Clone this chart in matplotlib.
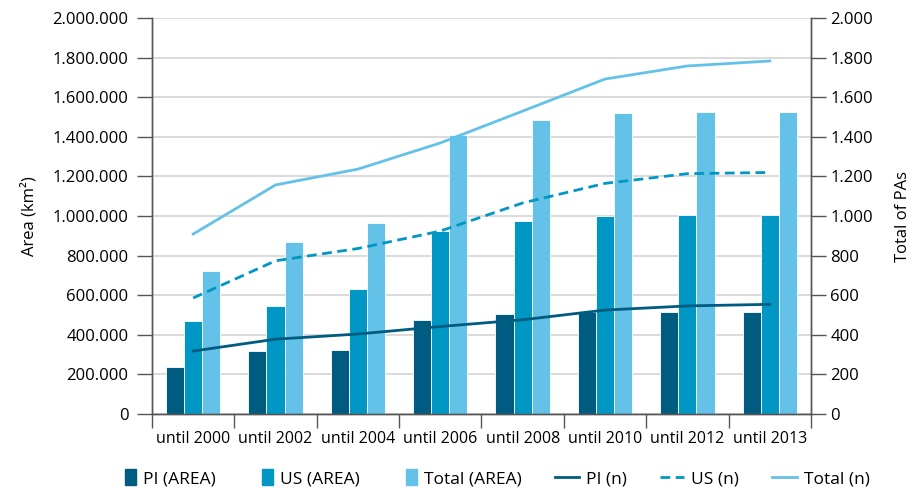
import numpy as np
import matplotlib.pyplot as plt
from matplotlib.ticker import FuncFormatter
from matplotlib.patches import Rectangle
from matplotlib.legend_handler import HandlerPatch

plt.rcParams['font.family'] = ['Open Sans', 'DejaVu Sans']

# data
periods = ['until 2000', 'until 2002', 'until 2004', 'until 2006',
           'until 2008', 'until 2010', 'until 2012', 'until 2013']
pi_area = [240000, 316000, 323000, 476000, 503000, 517000, 514000, 514000]
us_area = [471000, 547000, 631000, 924000, 973000, 1000000, 1003000, 1003000]
total_area = [721000, 869000, 965000, 1409000, 1485000, 1520000, 1524000, 1525000]
pi_n = [318, 378, 404, 442, 476, 525, 546, 554]
us_n = [586, 774, 836, 924, 1066, 1165, 1214, 1220]
total_n = [909, 1157, 1237, 1369, 1530, 1692, 1758, 1783]

c_dark = '#005b80'
c_mid = '#0097c4'
c_light = '#64c1e7'


def dotted(v, pos):
    return f'{int(v):,}'.replace(',', '.')


# narrow upright box for the bar entries in the legend
def small_box(legend, orig_handle, xdescent, ydescent, width, height, fontsize):
    return Rectangle((width - 8 - xdescent, -ydescent - 1.5), 8, height + 3)


fig = plt.figure(figsize=(9.19, 4.88), dpi=100)
ax = fig.add_axes([0.1654, 0.1516, 0.717, 0.8114])
ax2 = ax.twinx()

x = np.arange(len(periods))
w = 0.22
ax.bar(x - w, pi_area, w, color=c_dark, edgecolor='white', linewidth=0.6, zorder=2)
ax.bar(x, us_area, w, color=c_mid, edgecolor='white', linewidth=0.6, zorder=2)
ax.bar(x + w, total_area, w, color=c_light, edgecolor='white', linewidth=0.6, zorder=2)

l_pi, = ax2.plot(x, pi_n, color=c_dark, lw=2)
l_us, = ax2.plot(x, us_n, color=c_mid, lw=2, ls=(0, (3.5, 2)))
l_tot, = ax2.plot(x, total_n, color=c_light, lw=2)

ax.set_xlim(-0.5, len(periods) - 0.5)
ax.set_ylim(0, 2000000)
ax2.set_ylim(0, 2000)
ax.set_yticks(np.arange(0, 2000001, 200000))
ax2.set_yticks(np.arange(0, 2001, 200))
ax.yaxis.set_major_formatter(FuncFormatter(dotted))
ax2.yaxis.set_major_formatter(FuncFormatter(dotted))
ax.grid(axis='y', color='#d4d4d4', lw=1.2, zorder=0)
ax.set_axisbelow(True)

ax.set_xticks(np.arange(-0.5, len(periods), 1))
ax.set_xticklabels([])
ax.set_xticks(x, minor=True)
ax.set_xticklabels(periods, minor=True)
ax.tick_params(axis='x', which='major', length=10, width=1, color='#555555')
ax.tick_params(axis='x', which='minor', length=0, pad=12, labelsize=11.5)
ax.tick_params(axis='y', length=11, width=1, color='#555555', labelsize=12, pad=6)
ax2.tick_params(axis='y', length=11, width=1, color='#555555', labelsize=12, pad=3)

for a in (ax, ax2):
    a.spines['top'].set_visible(False)
    for s in ('left', 'right', 'bottom'):
        a.spines[s].set_color('#555555')
        a.spines[s].set_linewidth(1)

ax.set_ylabel('Area (km²)', fontsize=12, labelpad=11)
ax2.set_ylabel('Total of PAs', fontsize=12, labelpad=16)

handles = [Rectangle((0, 0), 1, 1, color=c_dark),
           Rectangle((0, 0), 1, 1, color=c_mid),
           Rectangle((0, 0), 1, 1, color=c_light),
           l_pi, l_us, l_tot]
labels = ['PI (AREA)', 'US (AREA)', 'Total (AREA)', 'PI (n)', 'US (n)', 'Total (n)']
fig.legend(handles, labels, loc='lower center', bbox_to_anchor=(0.534, -0.03), ncol=6,
           frameon=False, fontsize=12.5, handlelength=1.4, columnspacing=1.9,
           handletextpad=0.4,
           handler_map={Rectangle: HandlerPatch(patch_func=small_box)})

fig.savefig('out.png', dpi=100)
